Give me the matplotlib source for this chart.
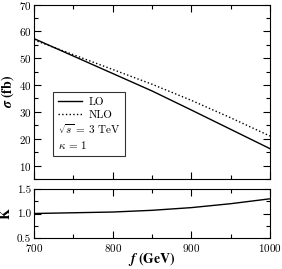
import numpy as np
import matplotlib.pyplot as plt
from matplotlib.ticker import MultipleLocator

plt.rcParams['font.family'] = 'serif'
plt.rcParams['font.serif'] = ['cmr10', 'DejaVu Serif']
plt.rcParams['mathtext.fontset'] = 'cm'
plt.rcParams['axes.formatter.use_mathtext'] = True

f = [700, 750, 800, 850, 900, 950, 1000]
lo = [57.3, 50.8, 44.3, 37.8, 30.7, 23.5, 16.3]
nlo = [56.8, 51.3, 45.8, 40.3, 34.3, 27.8, 21.0]
k = [1.0, 1.015, 1.03, 1.065, 1.12, 1.2, 1.30]

fig = plt.figure(figsize=(2.82, 2.69), dpi=100)
ax1 = fig.add_axes([34/282, 1-179/269, 236/282, 174.5/269])
ax2 = fig.add_axes([34/282, 1-238/269, 236/282, 49/269])

ax1.plot(f, lo, color='black', lw=1.0, label='LO')
ax1.plot(f, nlo, color='black', lw=1.0, ls=':', label='NLO')
ax1.plot([], [], ' ', label=r'$\sqrt{s}$ = 3 TeV')
ax1.plot([], [], ' ', label=r'$\kappa$ = 1')
ax1.set_xlim(700, 1000)
ax1.set_ylim(5, 70)
ax1.xaxis.set_major_locator(MultipleLocator(100))
ax1.xaxis.set_minor_locator(MultipleLocator(50))
ax1.yaxis.set_major_locator(MultipleLocator(10))
ax1.yaxis.set_minor_locator(MultipleLocator(5))
ax1.set_xticklabels([])
ax1.set_ylabel(r'$\mathbfit{\sigma}\ \mathbf{(fb)}$', fontsize=10,
               math_fontfamily='stix', labelpad=2)
leg = ax1.legend(loc='lower left', bbox_to_anchor=(0.055, 0.1), fontsize=8,
                 frameon=True, fancybox=False, edgecolor='black',
                 handlelength=2.2, handletextpad=0.6, borderpad=0.45,
                 labelspacing=0.25)
leg.get_frame().set_linewidth(0.8)
# text-only rows start where the line samples start
rows = leg._legend_handle_box.get_children()[0].get_children()
for row in rows[2:]:
    row.get_children()[0].width = 0
    row.sep = 0

ax2.plot(f, k, color='black', lw=1.0)
ax2.set_xlim(700, 1000)
ax2.set_ylim(0.5, 1.5)
ax2.xaxis.set_major_locator(MultipleLocator(100))
ax2.xaxis.set_minor_locator(MultipleLocator(50))
ax2.yaxis.set_major_locator(MultipleLocator(0.5))
ax2.yaxis.set_minor_locator(MultipleLocator(0.25))
ax2.yaxis.set_major_formatter(plt.FormatStrFormatter('%.1f'))
ax2.set_ylabel(r'$\mathbf{K}$', fontsize=10, math_fontfamily='stix', labelpad=3)
ax2.set_xlabel(r'$\mathbfit{f}\ \mathbf{(GeV)}$', fontsize=10,
               math_fontfamily='stix', labelpad=-3)

for ax in (ax1, ax2):
    ax.tick_params(which='both', direction='in', top=True, right=True,
                   labelsize=8, pad=2, width=0.8)
    ax.tick_params(which='major', length=5)
    ax.tick_params(which='minor', length=3)
    for s in ax.spines.values():
        s.set_linewidth(0.8)
ax2.tick_params(axis='x', pad=3)

fig.savefig('out.png', dpi=100)
